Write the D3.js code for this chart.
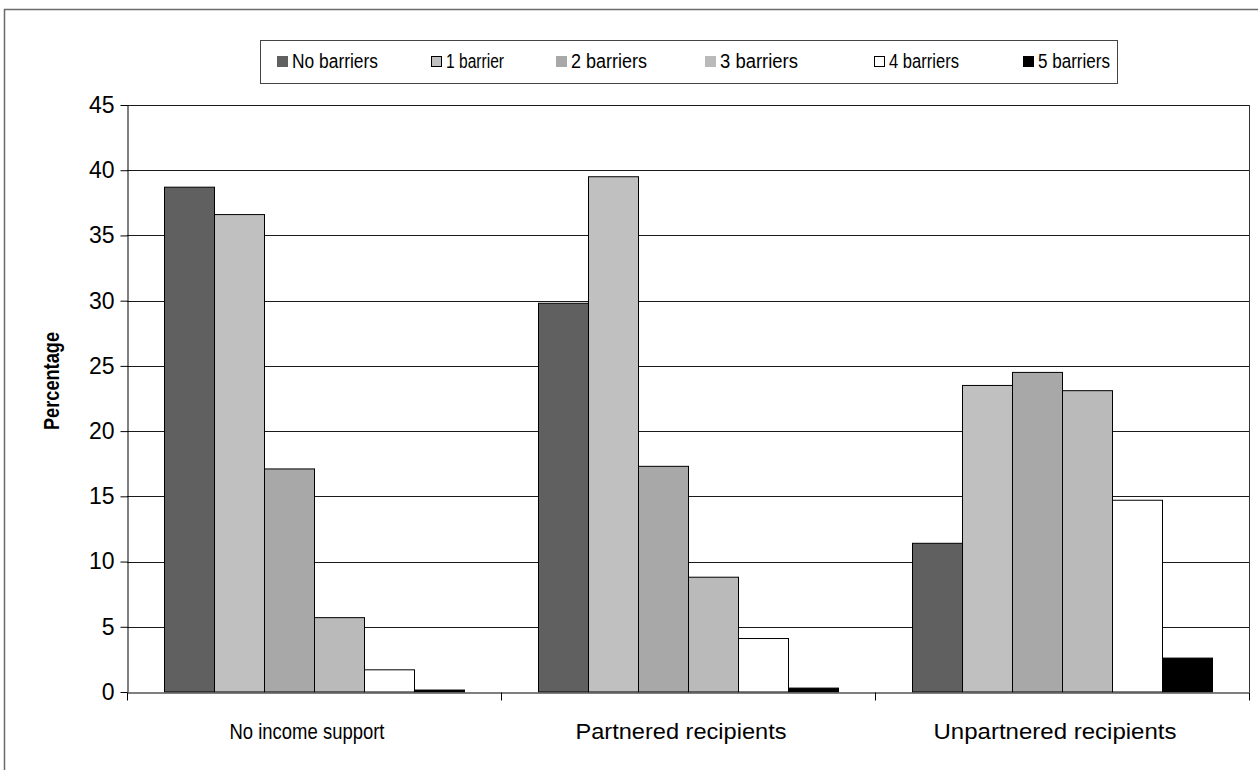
<!DOCTYPE html>
<html>
<head>
<meta charset="utf-8">
<script src="https://cdn.jsdelivr.net/npm/d3@7"></script>
<style>
  html, body { margin: 0; padding: 0; background: #fff; }
  svg { display: block; font-family: "Liberation Sans", Arial, sans-serif; }
</style>
</head>
<body>
<svg id="chart" width="1258" height="770"></svg>
<script>
// Groups along the x axis
const categories = ["No income support", "Partnered recipients", "Unpartnered recipients"];
// Number of barriers (one series each)
const seriesNames = ["No barriers", "1 barrier", "2 barriers", "3 barriers", "4 barriers", "5 barriers"];
// Percentage in each group, one array per series
const noBarriers   = [38.7, 29.8, 11.4];
const oneBarrier   = [36.6, 39.5, 23.5];
const twoBarriers  = [17.1, 17.3, 24.5];
const threeBarriers = [5.7, 8.8, 23.1];
const fourBarriers = [1.7, 4.1, 14.7];
const fiveBarriers = [0.15, 0.3, 2.6];
const yTicks = [0, 5, 10, 15, 20, 25, 30, 35, 40, 45];
const yTitle = "Percentage";

const seriesValues = [noBarriers, oneBarrier, twoBarriers, threeBarriers, fourBarriers, fiveBarriers];
const fills = ["#606060", "#c0c0c0", "#a8a8a8", "#bababa", "#ffffff", "#000000"];

const svg = d3.select("#chart");

// Outer chart frame
svg.append("rect")
  .attr("x", 4.5).attr("y", 9.5)
  .attr("width", 1300).attr("height", 800)
  .attr("fill", "none").attr("stroke", "#6a6a6a").attr("stroke-width", 1.5);

const plot = { left: 127, right: 1249, top: 105, bottom: 692 };

const x0 = d3.scaleBand().domain(categories).range([plot.left, plot.right]).padding(0);
const x1 = d3.scaleBand().domain(seriesNames).range([0, x0.bandwidth()]).paddingInner(0).paddingOuter(0.74);
const y = d3.scaleLinear().domain([0, 45]).range([plot.bottom, plot.top]);

// Horizontal gridlines
svg.append("g").selectAll("line").data(yTicks.filter(t => t > 0)).join("line")
  .attr("x1", plot.left).attr("x2", plot.right)
  .attr("y1", d => Math.round(y(d)) + 0.5).attr("y2", d => Math.round(y(d)) + 0.5)
  .attr("stroke", "#1a1a1a").attr("stroke-width", 1);

// Right edge of the plot area
svg.append("line")
  .attr("x1", plot.right + 0.5).attr("x2", plot.right + 0.5)
  .attr("y1", plot.top).attr("y2", plot.bottom)
  .attr("stroke", "#333").attr("stroke-width", 1);

// Bars
const rows = categories.map((c, i) => ({ cat: c, vals: seriesNames.map((s, j) => ({ s, j, v: seriesValues[j][i] })) }));
const groups = svg.append("g").selectAll("g").data(rows).join("g")
  .attr("transform", d => `translate(${x0(d.cat)},0)`);
groups.selectAll("rect").data(d => d.vals).join("rect")
  .attr("x", d => x1(d.s) + 0.5)
  .attr("y", d => y(d.v))
  .attr("width", x1.bandwidth())
  .attr("height", d => plot.bottom - y(d.v))
  .attr("fill", d => fills[d.j])
  .attr("stroke", "#000").attr("stroke-width", 1);

// Y axis
const yAxis = d3.axisLeft(y).tickValues(yTicks).tickSize(7).tickSizeOuter(0).tickPadding(6);
const gy = svg.append("g").attr("transform", `translate(${plot.left + 0.5},0)`).call(yAxis);
gy.attr("font-size", null).attr("font-family", null);
gy.select(".domain").attr("stroke", "#000");
gy.selectAll(".tick line").attr("stroke", "#000");
gy.selectAll(".tick text")
  .style("font-family", "'Liberation Sans', Arial, sans-serif")
  .style("font-size", "23px").attr("fill", "#000");

// X axis
const xAxis = d3.axisBottom(x0).tickSize(0).tickFormat("");
const gx = svg.append("g").attr("transform", `translate(0,${plot.bottom + 0.5})`).call(xAxis);
gx.select(".domain").attr("stroke", "#555").attr("stroke-width", 1.5);
gx.selectAll(".tick").remove();
// Category dividers below the axis
const bounds = categories.map(c => x0(c)).concat([plot.right]);
gx.selectAll("line.div").data(bounds).join("line")
  .attr("class", "div")
  .attr("x1", d => d + 0.5).attr("x2", d => d + 0.5)
  .attr("y1", 0).attr("y2", 8)
  .attr("stroke", "#000");

// Category labels
const labelWidths = [155, 211, 243];
svg.append("g").selectAll("text").data(categories).join("text")
  .attr("x", d => x0(d) + x0.bandwidth() / 2 - 7)
  .attr("y", 739)
  .attr("text-anchor", "middle")
  .style("font-size", "22px")
  .attr("textLength", (d, i) => labelWidths[i])
  .attr("lengthAdjust", "spacingAndGlyphs")
  .text(d => d);

// Y axis title
svg.append("text")
  .attr("transform", "translate(59,381) rotate(-90)")
  .attr("text-anchor", "middle")
  .style("font-size", "22px")
  .attr("font-weight", "bold")
  .attr("textLength", 98)
  .attr("lengthAdjust", "spacingAndGlyphs")
  .text(yTitle);

// Legend
const legend = svg.append("g");
legend.append("rect")
  .attr("x", 260.5).attr("y", 40.5).attr("width", 857).attr("height", 43)
  .attr("fill", "#fff").attr("stroke", "#444").attr("stroke-width", 1);
const legendX = [277, 431, 556, 705, 874, 1023];
const legendW = [86, 58, 76, 78, 70, 72];
const items = legend.selectAll("g.item").data(seriesNames).join("g")
  .attr("class", "item")
  .attr("transform", (d, i) => `translate(${legendX[i]},56)`);
items.append("rect")
  .attr("x", 0.5).attr("y", 0.5).attr("width", 10).attr("height", 10)
  .attr("fill", (d, i) => fills[i])
  .attr("stroke", (d, i) => (i === 1 || i === 4 || i === 5) ? "#000" : fills[i]);
items.append("text")
  .attr("x", 15).attr("y", 12)
  .style("font-size", "20px")
  .attr("textLength", (d, i) => legendW[i])
  .attr("lengthAdjust", "spacingAndGlyphs")
  .text(d => d);
</script>
</body>
</html>
